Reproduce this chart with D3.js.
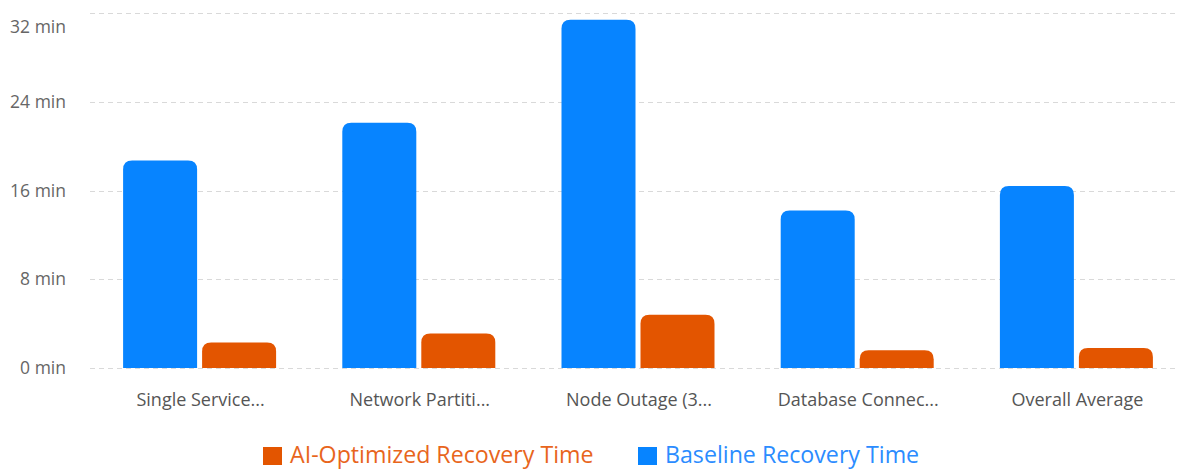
<!DOCTYPE html>
<html>
<head>
<meta charset="utf-8">
<script src="https://cdn.jsdelivr.net/npm/d3@7"></script>
<style>
  html, body { margin: 0; padding: 0; background: #fff; }
  svg { display: block; font-family: "Open Sans", "Noto Sans", sans-serif; }
</style>
</head>
<body>
<svg id="chart" width="1178" height="470"></svg>
<script>
// Recovery time per failure scenario, in minutes
const categories = ["Single Service...", "Network Partiti...", "Node Outage (3...", "Database Connec...", "Overall Average"];
const seriesNames = ["AI-Optimized Recovery Time", "Baseline Recovery Time"];
const baselineMinutes = [18.7, 22.1, 31.4, 14.2, 16.4];
const optimizedMinutes = [2.3, 3.1, 4.8, 1.6, 1.8];
const yTicks = [0, 8, 16, 24, 32];

const colors = { baseline: "#0784FF", optimized: "#E35500" };
const legendText = { baseline: "#2B8CFF", optimized: "#E8651C" };

const svg = d3.select("#chart");
const margin = { left: 90, right: -8, top: 13, bottom: 102 };
const width = 1178, height = 470;

const x = d3.scaleBand()
  .domain(categories)
  .range([margin.left, width - margin.right])
  .paddingInner(0)
  .paddingOuter(0);

const y = d3.scaleLinear()
  .domain([0, 32])
  .range([height - margin.bottom, margin.top]);

// Dashed horizontal gridlines
svg.append("g")
  .selectAll("line")
  .data(yTicks)
  .join("line")
  .attr("x1", margin.left)
  .attr("x2", width)
  .attr("y1", d => Math.round(y(d)) + 0.5)
  .attr("y2", d => Math.round(y(d)) + 0.5)
  .attr("stroke", "#d9d9d9")
  .attr("stroke-width", 1)
  .attr("stroke-dasharray", "5,4");

// Y axis labels (the top one sits just under its gridline)
svg.append("g")
  .selectAll("text")
  .data(yTicks)
  .join("text")
  .attr("x", 66)
  .attr("y", d => d === 32 ? y(d) + 14 : y(d))
  .attr("dy", "0.35em")
  .attr("text-anchor", "end")
  .attr("fill", "#666")
  .attr("font-size", 17.5)
  .text(d => `${d} min`);

// Bars with rounded top corners
const barW = 74, gap = 5;
function topRounded(x0, y0, w, h, r) {
  r = Math.min(r, h, w / 2);
  return `M${x0},${y0 + h}V${y0 + r}Q${x0},${y0} ${x0 + r},${y0}H${x0 + w - r}Q${x0 + w},${y0} ${x0 + w},${y0 + r}V${y0 + h}Z`;
}

const groups = svg.append("g")
  .selectAll("g")
  .data(categories.map((c, i) => ({ c, base: baselineMinutes[i], opt: optimizedMinutes[i] })))
  .join("g");

groups.append("path")
  .attr("fill", colors.baseline)
  .attr("d", d => {
    const cx = x(d.c) + x.bandwidth() / 2;
    const top = y(d.base);
    return topRounded(cx - gap / 2 - barW, top, barW, y(0) - top, 9);
  });

groups.append("path")
  .attr("fill", colors.optimized)
  .attr("d", d => {
    const cx = x(d.c) + x.bandwidth() / 2;
    const top = y(d.opt);
    return topRounded(cx + gap / 2, top, barW, y(0) - top, 9);
  });

// Category labels
svg.append("g")
  .selectAll("text")
  .data(categories)
  .join("text")
  .attr("x", d => x(d) + x.bandwidth() / 2 + 1)
  .attr("y", 400)
  .attr("dy", "0.35em")
  .attr("text-anchor", "middle")
  .attr("fill", "#555")
  .attr("font-size", 18)
  .text(d => d);

// Legend
const legendItems = [
  { name: seriesNames[0], fill: colors.optimized, text: legendText.optimized, x: 263 },
  { name: seriesNames[1], fill: colors.baseline, text: legendText.baseline, x: 638 }
];
const lg = svg.append("g")
  .selectAll("g")
  .data(legendItems)
  .join("g")
  .attr("transform", d => `translate(${d.x},455)`);
lg.append("rect")
  .attr("x", 0).attr("y", -8)
  .attr("width", 19).attr("height", 18)
  .attr("fill", d => d.fill);
lg.append("text")
  .attr("x", 27)
  .attr("dy", "0.35em")
  .attr("font-size", 23.2)
  .attr("fill", d => d.text)
  .text(d => d.name);
</script>
</body>
</html>
